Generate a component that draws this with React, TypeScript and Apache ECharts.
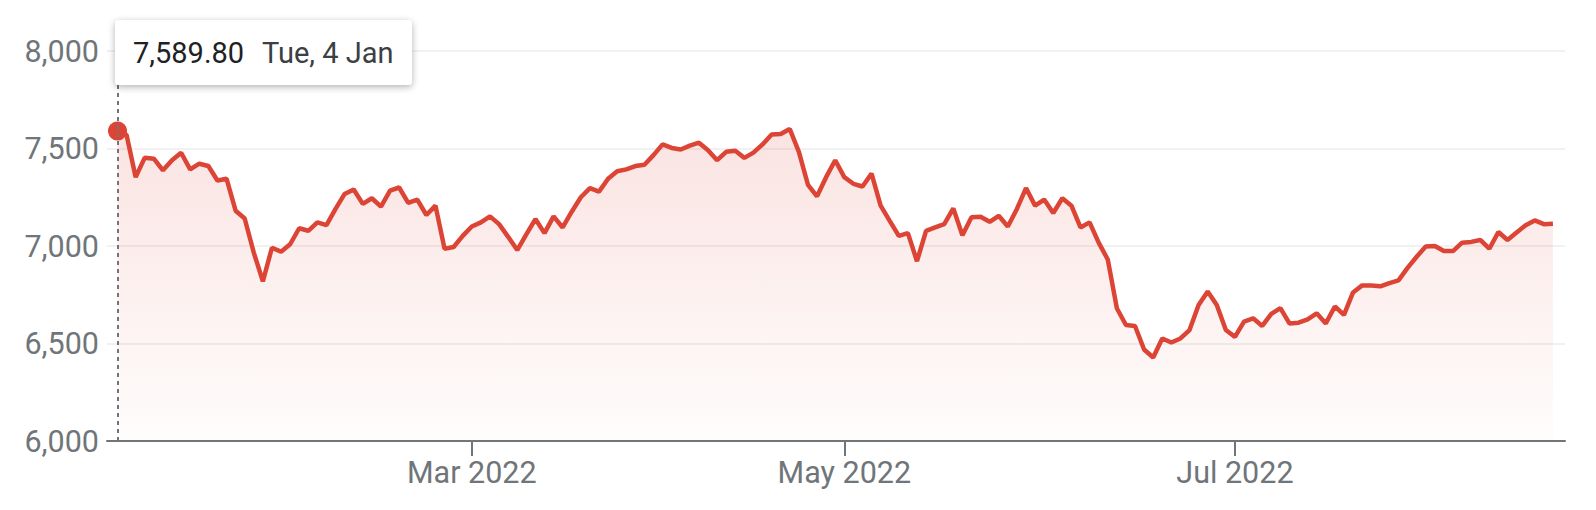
import React, { useEffect, useRef } from "react";
import * as echarts from "echarts";

// ASX trading calendar for the shown period
const startDate = "2022-01-04";
const endDate = "2022-08-19";
const holidays = ["2022-01-26", "2022-04-15", "2022-04-18", "2022-04-25", "2022-06-13"];

// Closing values, one per trading day
const values: number[] = [
  7589.8, 7569, 7353, 7453, 7448, 7388, 7440, 7478, 7393, 7422,
  7410, 7336, 7345, 7181, 7141, 6966, 6819, 6991, 6971, 7009,
  7091, 7078, 7121, 7107, 7190, 7267, 7290, 7216, 7245, 7202,
  7284, 7300, 7221, 7238, 7159, 7207, 6986, 6995, 7052, 7100,
  7121, 7152, 7112, 7047, 6979, 7060, 7138, 7066, 7152, 7095,
  7176, 7250, 7297, 7279, 7345, 7383, 7393, 7410, 7417, 7466,
  7521, 7503, 7495, 7515, 7530, 7491, 7440, 7483, 7488, 7452,
  7479, 7521, 7572, 7574, 7600, 7483, 7314, 7255, 7353, 7440,
  7353, 7319, 7305, 7371, 7207, 7129, 7052, 7066, 6922, 7078,
  7095, 7112, 7193, 7055, 7147, 7150, 7124, 7155, 7100, 7190,
  7297, 7207, 7238, 7169, 7245, 7207, 7095, 7121, 7017, 6931,
  6681, 6595, 6590, 6469, 6428, 6526, 6505, 6526, 6569, 6698,
  6767, 6698, 6569, 6534, 6612, 6629, 6590, 6652, 6681, 6603,
  6607, 6624, 6655, 6603, 6690, 6647, 6762, 6798, 6797, 6793,
  6810, 6824, 6888, 6945, 6997, 7000, 6974, 6974, 7017, 7021,
  7031, 6986, 7072, 7031, 7069, 7107, 7131, 7112, 7114,
];

const yTicks = [6000, 6500, 7000, 7500, 8000];
const tickLabels = ["Mar 2022", "May 2022", "Jul 2022"];

const MONTHS = ["Jan", "Feb", "Mar", "Apr", "May", "Jun", "Jul", "Aug", "Sep", "Oct", "Nov", "Dec"];
const DAYS = ["Sun", "Mon", "Tue", "Wed", "Thu", "Fri", "Sat"];

function tradingDays(): Date[] {
  const out: Date[] = [];
  const d = new Date(startDate + "T00:00:00Z");
  const end = new Date(endDate + "T00:00:00Z");
  while (d.getTime() <= end.getTime()) {
    const wd = d.getUTCDay();
    const iso = d.toISOString().slice(0, 10);
    if (wd !== 0 && wd !== 6 && holidays.indexOf(iso) < 0) out.push(new Date(d.getTime()));
    d.setUTCDate(d.getUTCDate() + 1);
  }
  return out;
}

const RED = "#dc4435";
const GREY = "#70757a";
const FONT = "Roboto";

export default function App() {
  const ref = useRef<HTMLDivElement>(null);
  useEffect(() => {
    if (!ref.current) return;
    const chart = echarts.init(ref.current, undefined, { renderer: "svg" });
    const dates = tradingDays();
    const tickIdx = tickLabels.map((lab) => {
      const m = MONTHS.indexOf(lab.slice(0, 3));
      const y = parseInt(lab.slice(4), 10);
      return dates.findIndex((dt) => dt.getUTCMonth() === m && dt.getUTCFullYear() === y);
    });
    const labelFor = (v: number) => {
      const k = tickIdx.indexOf(Math.round(v));
      return k >= 0 ? tickLabels[k] : "";
    };
    const n = values.length;
    chart.setOption({
      animation: false,
      grid: { left: 107, right: 31, top: 51, bottom: 69 },
      xAxis: {
        type: "value",
        min: -1.156,
        max: n - 1 + 1.33,
        axisLine: { show: true, lineStyle: { color: GREY, width: 2 } },
        axisTick: { show: true, customValues: tickIdx, length: 15, lineStyle: { color: GREY, width: 2 } },
        axisLabel: {
          customValues: tickIdx,
          formatter: (v: number) => labelFor(v),
          color: GREY,
          fontSize: 30.5,
          fontFamily: FONT,
          margin: 16,
        },
        splitLine: { show: false },
      },
      yAxis: {
        type: "value",
        min: yTicks[0],
        max: yTicks[yTicks.length - 1],
        interval: 500,
        axisLine: { show: false },
        axisTick: { show: false },
        axisLabel: {
          color: GREY,
          fontSize: 30.5,
          fontFamily: FONT,
          margin: 8,
          formatter: (v: number) => v.toLocaleString("en-US"),
        },
        splitLine: { lineStyle: { color: "#ececec", width: 1.5 } },
      },
      series: [
        {
          type: "line",
          data: values.map((v, i) => [i, v]),
          showSymbol: false,
          lineStyle: { color: RED, width: 4.5 },
          itemStyle: { color: RED },
          areaStyle: {
            origin: "start",
            color: {
              type: "linear",
              x: 0,
              y: 0,
              x2: 0,
              y2: 1,
              colorStops: [
                { offset: 0, color: "rgba(219,68,55,0.21)" },
                { offset: 1, color: "rgba(219,68,55,0.02)" },
              ],
            },
          },
          markLine: {
            silent: true,
            symbol: ["none", "none"],
            label: { show: false },
            lineStyle: { color: GREY, type: [4, 4], width: 2 },
            data: [{ xAxis: 0 }],
          },
          z: 2,
        },
        {
          type: "scatter",
          data: [[0, values[0]]],
          symbol: "circle",
          symbolSize: 19,
          itemStyle: { color: RED, opacity: 1 },
          z: 3,
        },
      ],
    });

    const p = chart.convertToPixel({ gridIndex: 0 }, [0, values[0]]) as number[];
    const d0 = dates[0];
    const dateText = `${DAYS[d0.getUTCDay()]}, ${d0.getUTCDate()} ${MONTHS[d0.getUTCMonth()]}`;
    const valText = values[0].toLocaleString("en-US", { minimumFractionDigits: 2, maximumFractionDigits: 2 });
    chart.setOption({
      graphic: [
        {
          type: "rect",
          z: 100,
          shape: { x: p[0] - 2.5, y: 20, width: 297, height: 65, r: 4 },
          style: {
            fill: "#ffffff",
            shadowBlur: 7,
            shadowColor: "rgba(0,0,0,0.3)",
            shadowOffsetY: 2,
          },
        },
        {
          type: "text",
          z: 101,
          x: p[0] + 15.5,
          y: 52.5,
          style: { text: valText, fill: "#202124", fontSize: 29, fontFamily: FONT, verticalAlign: "middle" },
        },
        {
          type: "text",
          z: 101,
          x: p[0] + 144.5,
          y: 52.5,
          style: { text: dateText, fill: "#3c4043", fontSize: 29, fontFamily: FONT, verticalAlign: "middle" },
        },
      ],
    });

    return () => chart.dispose();
  }, []);
  return (
    <div
      ref={ref}
      style={{ position: "absolute", left: 0, top: 0, width: 1596, height: 510 }}
    />
  );
}
